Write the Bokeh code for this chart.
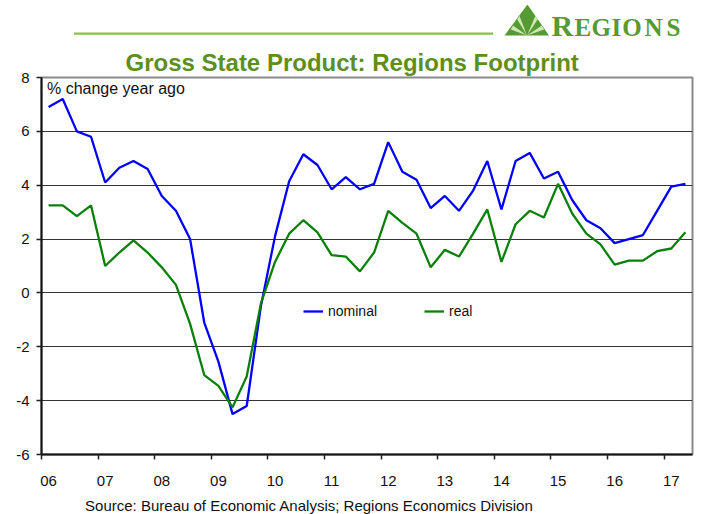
from bokeh.plotting import figure
from bokeh.layouts import column
from bokeh.models import (Range1d, FixedTicker, Label, Legend, LegendItem,
                          CustomJSTickFormatter)
from bokeh.core.properties import value
from bokeh.embed import file_html
from bokeh.resources import INLINE

# ---- data (quarterly, 2006Q1 .. 2017Q2, % change year ago) ----
year_labels = ["06", "07", "08", "09", "10", "11", "12", "13", "14", "15", "16", "17"]
nominal = [6.9, 7.2, 6.0, 5.8, 4.1, 4.65, 4.9, 4.6, 3.6, 3.05, 2.0, -1.1,
           -2.55, -4.5, -4.2, -0.5, 2.1, 4.15, 5.15, 4.75, 3.85, 4.3, 3.85, 4.05,
           5.6, 4.5, 4.2, 3.15, 3.6, 3.05, 3.8, 4.9, 3.1, 4.9, 5.2, 4.25,
           4.5, 3.45, 2.7, 2.4, 1.85, 2.0, 2.15, 3.05, 3.95, 4.05]
real = [3.25, 3.25, 2.85, 3.25, 1.0, 1.5, 1.95, 1.5, 0.95, 0.3, -1.15, -3.05,
        -3.45, -4.25, -3.1, -0.4, 1.15, 2.2, 2.7, 2.25, 1.4, 1.35, 0.8, 1.5,
        3.05, 2.6, 2.2, 0.95, 1.6, 1.35, 2.2, 3.1, 1.15, 2.55, 3.05, 2.8,
        4.05, 2.95, 2.2, 1.8, 1.05, 1.2, 1.2, 1.55, 1.65, 2.25]
y_ticks = [-6, -4, -2, 0, 2, 4, 6, 8]

n = len(nominal)
xq = [i + 0.5 for i in range(n)]

FONT = "Liberation Sans"
GREEN_TITLE = "#5e8f1e"
LOGO = "#559a32"
W = 702


def blank(height):
    f = figure(width=W, height=height, x_range=Range1d(0, W), y_range=Range1d(height, 0),
               x_axis_type=None, y_axis_type=None, min_border=0,
               output_backend="svg", toolbar_location=None,
               background_fill_color="white", border_fill_color="white")
    f.outline_line_color = None
    f.xgrid.visible = False
    f.ygrid.visible = False
    return f


# ---------------- header: rule + logo (pixel coordinates) ----------------
HH = 40
head = blank(HH)
head.quad(left=[35], right=[487], top=[32], bottom=[34.2], fill_color="#86c440", line_color=None)
head.patch([499.3, 524, 547.3], [35, 4, 35], fill_color=LOGO, line_color=None)
for (ax, ay, bx, by) in [(506, 29, 508.5, 25), (513, 19, 515.5, 15.5),
                         (532.5, 15.5, 535, 19), (539.5, 25, 542, 29)]:
    head.patch([523.6, ax, bx], [35, ay, by], fill_color="#cfe8b0", line_color=None)
head.text(x=[561.7], y=[24.5], text=["R"], text_font=value("Liberation Serif"),
          text_font_style="bold", text_font_size="30px", text_color=LOGO,
          text_align="center", text_baseline="middle")
head.text(x=[583.8, 603.5, 619.8, 636.7, 660.0, 681.5], y=[26.7] * 6, text=list("EGIONS"),
          text_font=value("Liberation Serif"), text_font_style="bold",
          text_font_size="25px", text_color=LOGO,
          text_align="center", text_baseline="middle")

# ---------------- main chart ----------------
MB_TOP, FRAME_H, MB_BOTTOM = 37, 377, 37
p = figure(frame_width=651, frame_height=FRAME_H,
           min_border_left=41, min_border_right=10,
           min_border_top=MB_TOP, min_border_bottom=MB_BOTTOM,
           x_range=Range1d(0, n), y_range=Range1d(y_ticks[0], y_ticks[-1]),
           output_backend="svg", toolbar_location=None,
           background_fill_color="white", border_fill_color="white")

p.title.text = "Gross State Product: Regions Footprint"
p.title.align = "left"
p.title.offset = 84
p.title.standoff = 3
p.title.text_font = FONT
p.title.text_font_style = "bold"
p.title.text_font_size = "24px"
p.title.text_color = GREEN_TITLE

p.outline_line_color = "#8a8a8a"
p.outline_line_width = 2

# x axis: labels at first quarter of each year, tick marks at year boundaries
p.xaxis.ticker = FixedTicker(ticks=[4 * k + 0.5 for k in range(len(year_labels))],
                             minor_ticks=[4 * k for k in range(len(year_labels))])
p.xaxis.formatter = CustomJSTickFormatter(args=dict(labels=year_labels),
                                          code="return labels[Math.floor(tick/4)];")
p.xaxis.major_tick_out = 0
p.xaxis.major_tick_in = 0
p.xaxis.minor_tick_out = 5
p.xaxis.minor_tick_in = 0
p.xaxis.minor_tick_line_color = "#222222"
p.xaxis.minor_tick_line_width = 1.5
p.xaxis.axis_line_color = "#111111"
p.xaxis.axis_line_width = 2
p.xaxis.major_label_standoff = 16
p.xaxis.major_label_text_font = FONT
p.xaxis.major_label_text_font_size = "15px"
p.xaxis.major_label_text_color = "#111111"

p.yaxis.ticker = FixedTicker(ticks=y_ticks, minor_ticks=[])
p.yaxis.formatter = CustomJSTickFormatter(code="return tick.toString();")
p.yaxis.major_tick_out = 5
p.yaxis.major_tick_in = 0
p.yaxis.major_tick_line_color = "#222222"
p.yaxis.major_tick_line_width = 1.5
p.yaxis.axis_line_color = "#111111"
p.yaxis.axis_line_width = 2
p.yaxis.major_label_standoff = 7
p.yaxis.major_label_text_font = FONT
p.yaxis.major_label_text_font_size = "15px"
p.yaxis.major_label_text_color = "#111111"

p.xgrid.visible = False
p.ygrid.grid_line_color = "#333333"
p.ygrid.grid_line_width = 1

r_nom = p.line(xq, nominal, line_color="#0000ff", line_width=2.3)
r_real = p.line(xq, real, line_color="#0a800a", line_width=2.3)

legend = Legend(items=[LegendItem(label="nominal", renderers=[r_nom]),
                       LegendItem(label="real", renderers=[r_real])],
                location=(262, 133), orientation="horizontal",
                glyph_width=20, glyph_height=20, label_standoff=5, spacing=47,
                padding=0, margin=0, border_line_color=None,
                background_fill_alpha=0,
                label_text_font=FONT, label_text_font_size="14px",
                label_text_color="#111111")
p.add_layout(legend)

p.add_layout(Label(x=5.5, y=366.5, x_units="screen", y_units="screen",
                   text="% change year ago", text_font=FONT, text_font_size="16px",
                   text_color="#111111", text_baseline="alphabetic"))

# ---------------- footer: source ----------------
FH = 514 - HH - (MB_TOP + FRAME_H + MB_BOTTOM)
foot = blank(FH)
foot.text(x=[47], y=[FH - 9.5], text=["Source: Bureau of Economic Analysis; Regions Economics Division"],
          text_font=value(FONT), text_font_size="15px", text_color="#111111",
          text_align="left", text_baseline="alphabetic")

layout = column(head, p, foot, spacing=0)
open("out.html", "w").write(file_html(layout, INLINE))
